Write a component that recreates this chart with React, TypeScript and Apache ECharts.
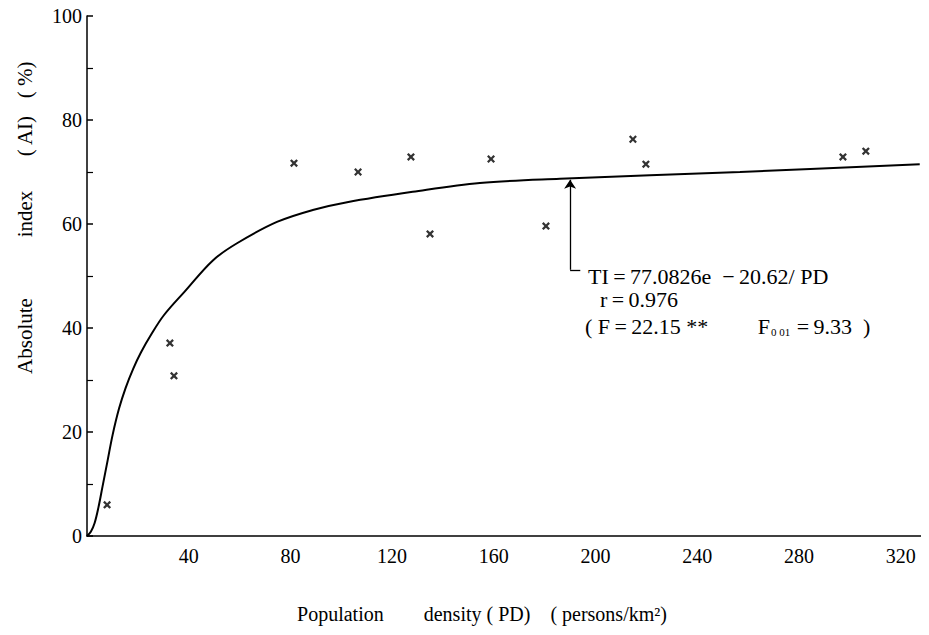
import React, { useEffect, useRef } from "react";
import * as echarts from "echarts";

const yTickValues = [0, 20, 40, 60, 80, 100];

// Observed points: [population density, absolute index]
const observedPD = [7.9, 32.6, 34.2, 81.4, 106.6, 127.4, 134.9, 158.9, 180.5, 214.7, 219.8, 297.3, 306.3];
const observedAI = [6.0, 37.1, 30.8, 71.7, 70.0, 72.9, 58.1, 72.5, 59.6, 76.3, 71.5, 72.9, 74.0];

// Fitted curve
const curvePD = [0, 1.5, 3, 4.5, 6.1, 8.1, 10.1, 12.6, 15.2, 18.2, 21.2, 25.3, 30.3, 38.4, 49.5, 59.0, 74.7, 88.8, 102.3, 128.1, 154.5, 186.0, 256.8, 327.5];
const curveAI = [0, 0.8, 2.5, 5.5, 9.5, 14.5, 19.5, 24.5, 28.5, 32.2, 35.3, 38.8, 42.5, 47.0, 53.0, 56.3, 60.4, 62.7, 64.2, 66.2, 67.9, 68.7, 70.0, 71.5];

const arrowPD = 190;
const arrowFromAI = 51.2;
const arrowToAI = 68.5;

const FONT = "'Liberation Serif', 'Times New Roman', serif";
const NB = "\u00A0";
const TH = "\u2009";

export default function App() {
  const ref = useRef<HTMLDivElement>(null);
  useEffect(() => {
    if (!ref.current) return;
    const chart = echarts.init(ref.current, undefined, { renderer: "svg" });
    const cross = "path://M0,2 L2,0 L5,3 L8,0 L10,2 L7,5 L10,8 L8,10 L5,7 L2,10 L0,8 L3,5 Z";
    const yTitle = (text: string, y: number) => ({
      type: "text",
      x: 25,
      y,
      rotation: Math.PI / 2,
      style: {
        text,
        font: `21px ${FONT}`,
        fill: "#000",
        align: "center",
        verticalAlign: "middle",
      },
    });
    chart.setOption({
      animation: false,
      backgroundColor: "#ffffff",
      grid: { left: 87, right: 8, top: 16, bottom: 99 },
      xAxis: {
        type: "value",
        min: 0,
        max: 328,
        interval: 40,
        splitLine: { show: false },
        axisLine: { lineStyle: { color: "#000", width: 1.5 } },
        axisTick: { show: false },
        axisLabel: {
          color: "#000",
          fontFamily: FONT,
          fontSize: 20,
          margin: 10,
          formatter: (v: number) => (v > 0 && v % 40 === 0 ? String(v) : ""),
        },
      },
      yAxis: {
        type: "value",
        min: 0,
        max: 100,
        interval: 20,
        splitLine: { show: false },
        axisLine: { show: true, lineStyle: { color: "#000", width: 1.5 } },
        axisTick: { show: true, inside: true, length: 6, lineStyle: { color: "#000", width: 1.5 } },
        minorTick: { show: true, splitNumber: 2, length: 6, lineStyle: { color: "#000", width: 1.2 } },
        axisLabel: {
          color: "#000",
          fontFamily: FONT,
          fontSize: 20,
          margin: 5,
          formatter: (v: number) => (yTickValues.includes(v) ? String(v) : ""),
        },
      },
      series: [
        {
          type: "line",
          data: curvePD.map((x, i) => [x, curveAI[i]]),
          smooth: 0.35,
          showSymbol: false,
          lineStyle: { color: "#000", width: 2 },
          markLine: {
            silent: true,
            symbol: ["none", "arrow"],
            symbolSize: 9,
            label: { show: false },
            lineStyle: { color: "#000", width: 1.3, type: "solid" },
            data: [
              [
                { coord: [arrowPD, arrowFromAI], symbol: "none" },
                { coord: [arrowPD, arrowToAI], symbol: "arrow" },
              ],
              [
                { coord: [arrowPD, arrowFromAI], symbol: "none" },
                { coord: [arrowPD + 4, arrowFromAI], symbol: "none" },
              ],
            ],
          },
        },
        {
          type: "scatter",
          data: observedPD.map((x, i) => [x, observedAI[i]]),
          symbol: cross,
          symbolSize: 8,
          itemStyle: { color: "#000" },
        },
      ],
      graphic: [
        yTitle("Absolute", 336),
        yTitle("index", 214),
        yTitle("( AI)", 136),
        yTitle("( %)", 80),
        {
          type: "text",
          x: 482,
          y: 614,
          style: {
            text: `Population${NB.repeat(8)}density ( PD)${NB.repeat(4)}( persons/km²)`,
            font: `20px ${FONT}`,
            fill: "#000",
            align: "center",
            verticalAlign: "middle",
          },
        },
        {
          type: "text",
          x: 588,
          y: 276,
          style: {
            text: `TI${TH}=${TH}77.0826e${NB.repeat(2)}−${TH}20.62/${NB}PD`,
            font: `22px ${FONT}`,
            fill: "#000",
            align: "left",
            verticalAlign: "middle",
          },
        },
        {
          type: "text",
          x: 600,
          y: 299,
          style: {
            text: `r${TH}=${TH}0.976`,
            font: `22px ${FONT}`,
            fill: "#000",
            align: "left",
            verticalAlign: "middle",
          },
        },
        {
          type: "text",
          x: 585,
          y: 326,
          style: {
            text: `{a|(${NB}F${TH}=${TH}22.15${NB}**${NB.repeat(9)}F}{s|0 01}{a|${TH}=${TH}9.33${NB.repeat(2)})}`,
            fill: "#000",
            align: "left",
            verticalAlign: "middle",
            rich: {
              a: { font: `22px ${FONT}`, fill: "#000" },
              s: { font: `11px ${FONT}`, fill: "#000", padding: [11, 2, 0, 1] },
            },
          },
        },
      ],
    });
    return () => chart.dispose();
  }, []);
  return <div ref={ref} style={{ width: 929, height: 635, margin: -8 }} />;
}
